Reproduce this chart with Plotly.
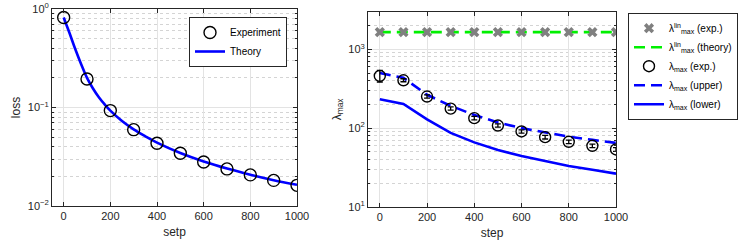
import plotly.graph_objects as go

# ---------------- data ----------------
steps = [0, 100, 200, 300, 400, 500, 600, 700, 800, 900, 1000]

# left panel: loss
loss_exp = [0.82, 0.195, 0.093, 0.0596, 0.0433, 0.0343, 0.028, 0.0238, 0.0207, 0.0182, 0.0162]
theory_steps = [0, 25, 50, 75, 100, 125, 150, 175, 200, 250, 300, 350, 400, 500, 600, 700, 800, 900, 1000]
loss_theory = [0.82, 0.57, 0.39, 0.275, 0.2, 0.157, 0.128, 0.108, 0.093, 0.073, 0.06, 0.051, 0.044,
               0.0345, 0.0283, 0.024, 0.0208, 0.0183, 0.0164]

# right panel: lambda_max
lam_lin_exp = [1650] * 11
lam_lin_err = [60] * 11
lam_lin_theory = [1650] * 11
lam_exp = [459, 405, 252, 177, 134, 108, 90.8, 76.9, 67.2, 59.7, 53.7]
lam_err_plus = [83, 18, 12, 9, 7, 5, 4.5, 4, 3.5, 3, 3]
lam_err_minus = [74, 17, 11, 8, 6.5, 5, 4.5, 4, 3.5, 3, 3]
lam_upper = [500, 435, 265, 192, 147, 118, 100, 88, 78, 71, 65]
lam_lower = [233, 203, 129, 87, 66, 52.7, 44.3, 38, 33.2, 29.7, 26.5]

x_ticks = [0, 200, 400, 600, 800, 1000]
loss_ticks = [0.01, 0.1, 1]
loss_ticktext = ["10<sup>−2</sup>", "10<sup>−1</sup>", "10<sup>0</sup>"]
lam_ticks = [10, 100, 1000]
lam_ticktext = ["10<sup>1</sup>", "10<sup>2</sup>", "10<sup>3</sup>"]

# ---------------- figure ----------------
FONT = "Liberation Sans"
AX = "#262626"
GRID = "#e3e3e3"
MINOR = "#d4d4d4"

fig = go.Figure()

# left panel
fig.add_trace(go.Scatter(
    x=theory_steps, y=loss_theory, mode="lines", name="Theory",
    line=dict(color="#0000ff", width=2.6, shape="spline"),
    xaxis="x", yaxis="y", legend="legend"))
fig.add_trace(go.Scatter(
    x=steps, y=loss_exp, mode="markers", name="Experiment",
    marker=dict(symbol="circle-open", size=12, color="black", line=dict(width=1.4)),
    xaxis="x", yaxis="y", legend="legend"))

# right panel
fig.add_trace(go.Scatter(
    x=steps, y=lam_lin_theory, mode="lines",
    name="λ<sup>lin</sup><sub>max</sub> (theory)",
    line=dict(color="#00f000", width=2.6, dash="11px,6px"),
    xaxis="x2", yaxis="y2", legend="legend2", legendrank=2))
fig.add_trace(go.Scatter(
    x=steps, y=lam_lin_exp, mode="markers",
    name="λ<sup>lin</sup><sub>max</sub> (exp.)",
    marker=dict(symbol="x", size=9, color="#808080", line=dict(width=0)),
    error_y=dict(type="data", array=lam_lin_err, color="#808080", thickness=1.5, width=3),
    xaxis="x2", yaxis="y2", legend="legend2", legendrank=1))
fig.add_trace(go.Scatter(
    x=steps, y=lam_upper, mode="lines",
    name="λ<sub>max</sub> (upper)",
    line=dict(color="#0000ff", width=2.6, dash="11px,6px"),
    xaxis="x2", yaxis="y2", legend="legend2", legendrank=4))
fig.add_trace(go.Scatter(
    x=steps, y=lam_lower, mode="lines",
    name="λ<sub>max</sub> (lower)",
    line=dict(color="#0000ff", width=2.6),
    xaxis="x2", yaxis="y2", legend="legend2", legendrank=5))
fig.add_trace(go.Scatter(
    x=steps, y=lam_exp, mode="markers",
    name="λ<sub>max</sub> (exp.)",
    marker=dict(symbol="circle-open", size=11, color="black", line=dict(width=1.4)),
    error_y=dict(type="data", symmetric=False, array=lam_err_plus, arrayminus=lam_err_minus,
                 color="black", thickness=1.3, width=3),
    xaxis="x2", yaxis="y2", legend="legend2", legendrank=3))

common_x = dict(
    range=[-50, 1000], tickvals=x_ticks, showgrid=True, gridcolor=GRID, gridwidth=1,
    zeroline=False, showline=True, linecolor=AX, linewidth=1, mirror="ticks",
    ticks="inside", ticklen=4, tickcolor=AX, automargin=False,
    tickfont=dict(family=FONT, size=11, color=AX),
)
common_y = dict(
    type="log", showgrid=True, gridcolor=GRID, gridwidth=1,
    zeroline=False, showline=True, linecolor=AX, linewidth=1, mirror="ticks",
    ticks="inside", ticklen=4, tickcolor=AX, automargin=False,
    tickfont=dict(family=FONT, size=11, color=AX),
)

fig.update_layout(
    template="none",
    width=747, height=247,
    margin=dict(l=0, r=0, t=0, b=0, autoexpand=False),
    paper_bgcolor="white", plot_bgcolor="white",
    font=dict(family=FONT, size=11, color=AX),
    xaxis=dict(common_x, domain=[52 / 747, 297 / 747], anchor="y",
               title=dict(text="setp", font=dict(family=FONT, size=12, color=AX), standoff=6)),
    yaxis=dict(common_y, domain=[1 - 206 / 247, 1 - 9 / 247], anchor="x",
               range=[-2, 0], tickvals=loss_ticks, ticktext=loss_ticktext,
               minor=dict(tickvals=[k * 0.01 for k in range(2, 10)] + [k * 0.1 for k in range(2, 10)],
                          showgrid=True, griddash="dot", gridcolor=MINOR, ticks="inside",
                          ticklen=2, tickcolor=AX),
               title=dict(text="loss", font=dict(family=FONT, size=12, color=AX), standoff=4)),
    xaxis2=dict(common_x, domain=[368 / 747, 616 / 747], anchor="y2",
                title=dict(text="step", font=dict(family=FONT, size=12, color=AX), standoff=6)),
    yaxis2=dict(common_y, domain=[1 - 207 / 247, 1 - 11.7 / 247], anchor="x2",
                range=[1, 3.477], tickvals=lam_ticks, ticktext=lam_ticktext,
                minor=dict(tickvals=[k * 10 for k in range(2, 10)] + [k * 100 for k in range(2, 10)]
                           + [2000, 3000],
                           showgrid=True, griddash="dot", gridcolor=MINOR, ticks="inside",
                           ticklen=2, tickcolor=AX),
                title=dict(text="λ<sub>max</sub>", font=dict(family=FONT, size=12, color=AX), standoff=4)),
    legend=dict(x=189 / 747, y=1 - 17 / 247, xanchor="left", yanchor="top",
                bgcolor="white", bordercolor=AX, borderwidth=1,
                font=dict(family=FONT, size=10, color="black"), tracegroupgap=0,
                traceorder="reversed"),
    legend2=dict(x=628 / 747, y=1 - 12.7 / 247, xanchor="left", yanchor="top",
                 bgcolor="white", bordercolor=AX, borderwidth=1,
                 font=dict(family=FONT, size=10, color="black"), tracegroupgap=0,
                 traceorder="normal"),
    showlegend=True,
)

fig.write_html("out.html", config={"displayModeBar": False},
               post_script="document.body.style.margin='0';")
